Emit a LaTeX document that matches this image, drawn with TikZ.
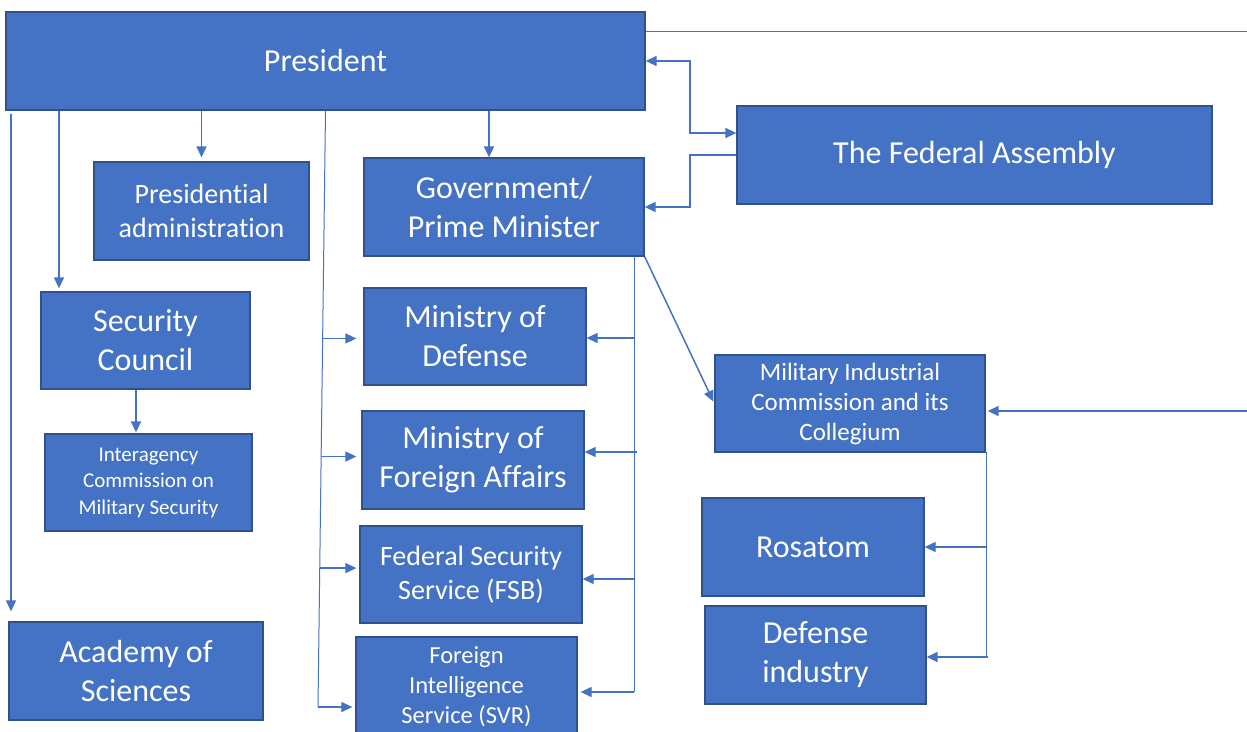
\documentclass[tikz,border=0pt]{standalone}
\usepackage{fontspec}
\setmainfont{Carlito}[Ligatures={NoCommon}]
\usetikzlibrary{arrows.meta,calc}
\definecolor{bfill}{HTML}{4472C4}
\definecolor{bdraw}{HTML}{2F528F}
\tikzset{
  box/.style={draw=bdraw, fill=bfill, line width=1.3pt, text=white, align=center, inner sep=0pt},
  fbig/.style={font=\fontsize{32}{39}\selectfont},
  fmid/.style={font=\fontsize{28}{34}\selectfont},
  fsv/.style={font=\fontsize{24.5}{30}\selectfont},
  fmic/.style={font=\fontsize{25}{30}\selectfont},
  fsmall/.style={font=\fontsize{21}{26.5}\selectfont},
  tip/.tip={Triangle[length=11pt,width=10pt]},
  conn/.style={draw=bfill, line width=1.5pt, -tip},
  thinline/.style={draw=bfill, line width=1pt},
  thinarr/.style={draw=bfill, line width=1.2pt, -tip},
}
\begin{document}
\begin{tikzpicture}[x=1pt,y=-1pt]
\useasboundingbox[fill=white] (0,0) rectangle (1247,731);
% boxes
\node[box,fbig,minimum width=639pt,minimum height=98pt] (pres) at (325.5,61) {President};
\node[box,fbig,minimum width=475pt,minimum height=98pt] (fa) at (974.5,155) {The Federal Assembly};
\node[box,fmid,minimum width=215pt,minimum height=98pt] (pa) at (201.5,211) {Presidential\\administration};
\node[box,fbig,minimum width=280pt,minimum height=98pt] (gov) at (504,207) {Government/\\Prime Minister};
\node[box,fbig,minimum width=209pt,minimum height=97pt] (sc) at (145.5,340.5) {Security\\Council};
\node[box,fsmall,minimum width=207pt,minimum height=97pt] (ic) at (148.5,482.5) {Interagency\\Commission on\\Military Security};
\node[box,fbig,minimum width=222pt,minimum height=97pt] (mod) at (475,336.5) {Ministry of\\Defense};
\node[box,fbig,minimum width=222pt,minimum height=98pt] (mofa) at (473,460) {Ministry of\\Foreign Affairs};
\node[box,fmid,minimum width=222pt,minimum height=97pt] (fsb) at (471,574.5) {Federal Security\\Service (FSB)};
\node[box,fsv,minimum width=221pt,minimum height=100pt] (svr) at (466.5,687) {Foreign\\Intelligence\\Service (SVR)};
\node[box,fmic,minimum width=270pt,minimum height=97pt] (mic) at (850,403.5) {Military Industrial\\Commission and its\\Collegium};
\node[box,fbig,minimum width=222pt,minimum height=98pt] (ros) at (813,547) {Rosatom};
\node[box,fbig,minimum width=221pt,minimum height=98pt] (di) at (815.5,655) {Defense\\industry};
\node[box,fbig,minimum width=254pt,minimum height=98pt] (acad) at (136,671) {Academy of\\Sciences};
% helper coordinates
\coordinate (topend) at (1247,31);
\coordinate (rightend) at (1247,411);
\coordinate (pbot) at (318,707);
\coordinate (gtop) at (634,256);
\coordinate (gbot) at (634,692);
\coordinate (mtop) at (986,452);
\coordinate (mbot) at (986,657);
% top thin line
\draw[thinline] (pres.east |- topend) -- (topend);
% President <-> Federal Assembly
\draw[conn, tip-tip] (pres.east) -- (690,61) -- (690,133) -- (fa.west |- 690,133);
% Federal Assembly -> Government
\draw[conn] (fa.west) -- (690,155) -- (690,207) -- (gov.east);
% President -> subordinate boxes
\draw[conn, shorten >=4pt] (pres.south -| pa.north) -- (pa.north);
\draw[conn] (pres.south -| 489,0) -- (gov.north -| 489,0);
\draw[conn, shorten >=3pt] (pres.south -| 59,0) -- (sc.north -| 59,0);
\draw[conn, shorten >=10pt, shorten <=3pt] (pres.south -| 11,0) -- (acad.north -| 11,0);
\draw[conn, shorten >=1pt] (sc.south -| 136,0) -- (ic.north -| 136,0);
% President thin slanted line and branches
\draw[thinline] (pres.south) -- (pbot);
\coordinate (b1) at ($(pres.south)!0.382!(pbot)$);
\coordinate (b2) at ($(pres.south)!0.580!(pbot)$);
\coordinate (b3) at ($(pres.south)!0.767!(pbot)$);
\draw[thinarr, shorten >=7pt] (b1) -- (b1 -| mod.west);
\draw[thinarr, shorten >=5pt] (b2) -- (b2 -| mofa.west);
\draw[thinarr, shorten >=3pt] (b3) -- (b3 -| fsb.west);
\draw[thinarr, shorten >=3pt] (pbot) -- (pbot -| svr.west);
% Government vertical line and branches
\draw[thinline] (gtop) -- (gbot);
\draw[thinarr] (634,338) -- (634,338 -| mod.east);
\draw[thinarr] (637,452) -- (637,452 -| mofa.east);
\draw[thinarr] (634,579) -- (634,579 -| fsb.east);
\draw[thinarr, shorten >=3pt] (gbot) -- (gbot -| svr.east);
% Government -> MIC
\draw[conn, shorten >=2pt] (gov.south east) -- (mic.west);
% right edge -> MIC
\draw[conn, shorten >=2pt] (rightend) -- (rightend -| mic.east);
% MIC vertical and branches
\draw[thinline] (mtop) -- (mbot);
\draw[thinarr] (986,547) -- (986,547 -| ros.east);
\draw[thinarr] (988,657) -- (988,657 -| di.east);
\end{tikzpicture}
\end{document}
